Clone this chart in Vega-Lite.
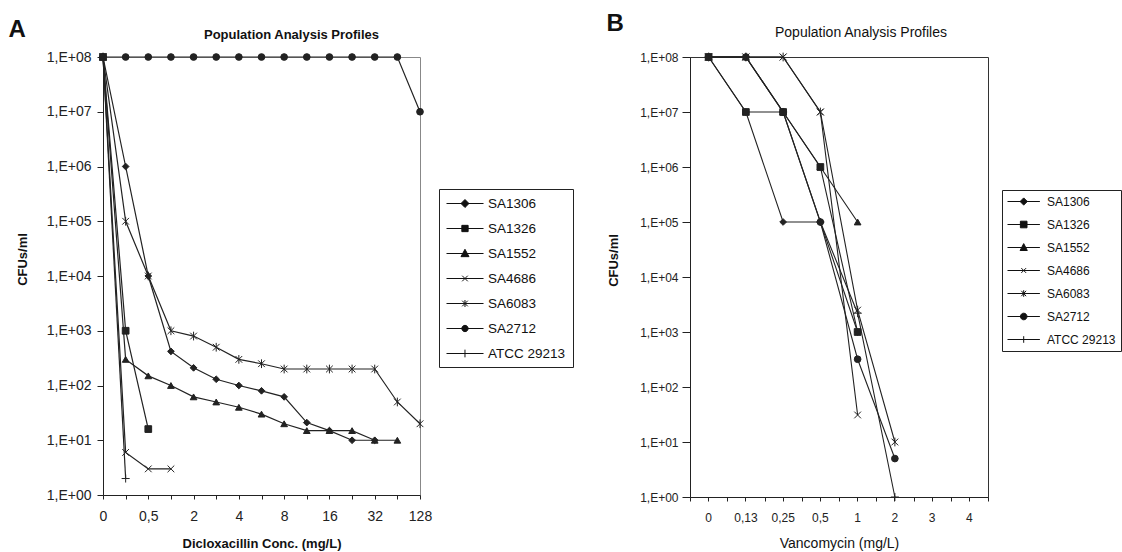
{
  "$schema": "https://vega.github.io/schema/vega-lite/v6.json",
  "background": "white",
  "padding": {"left": 8, "top": 12, "right": 0, "bottom": 0},
  "config": {
    "font": "Liberation Sans",
    "concat": {"spacing": 32},
    "axis": {"grid": false, "domainColor": "#222", "tickColor": "#222", "labelColor": "#222", "titleColor": "#111", "labelOverlap": false, "labelFlush": false}
  },
  "datasets": {
    "a": [
      {"series": "SA1306", "conc": 0, "cfu": 100000000},
      {"series": "SA1306", "conc": 0.25, "cfu": 1000000},
      {"series": "SA1306", "conc": 0.5, "cfu": 10000},
      {"series": "SA1306", "conc": 1, "cfu": 420},
      {"series": "SA1306", "conc": 2, "cfu": 210},
      {"series": "SA1306", "conc": 3, "cfu": 130},
      {"series": "SA1306", "conc": 4, "cfu": 100},
      {"series": "SA1306", "conc": 6, "cfu": 80},
      {"series": "SA1306", "conc": 8, "cfu": 62},
      {"series": "SA1306", "conc": 12, "cfu": 21},
      {"series": "SA1306", "conc": 16, "cfu": 15},
      {"series": "SA1306", "conc": 24, "cfu": 10},
      {"series": "SA1306", "conc": 32, "cfu": 10},
      {"series": "SA1326", "conc": 0, "cfu": 100000000},
      {"series": "SA1326", "conc": 0.25, "cfu": 1000},
      {"series": "SA1326", "conc": 0.5, "cfu": 16},
      {"series": "SA1552", "conc": 0, "cfu": 100000000},
      {"series": "SA1552", "conc": 0.25, "cfu": 300},
      {"series": "SA1552", "conc": 0.5, "cfu": 150},
      {"series": "SA1552", "conc": 1, "cfu": 100},
      {"series": "SA1552", "conc": 2, "cfu": 62},
      {"series": "SA1552", "conc": 3, "cfu": 50},
      {"series": "SA1552", "conc": 4, "cfu": 40},
      {"series": "SA1552", "conc": 6, "cfu": 30},
      {"series": "SA1552", "conc": 8, "cfu": 20},
      {"series": "SA1552", "conc": 12, "cfu": 15},
      {"series": "SA1552", "conc": 16, "cfu": 15},
      {"series": "SA1552", "conc": 24, "cfu": 15},
      {"series": "SA1552", "conc": 32, "cfu": 10},
      {"series": "SA1552", "conc": 64, "cfu": 10},
      {"series": "SA4686", "conc": 0, "cfu": 100000000},
      {"series": "SA4686", "conc": 0.25, "cfu": 6},
      {"series": "SA4686", "conc": 0.5, "cfu": 3},
      {"series": "SA4686", "conc": 1, "cfu": 3},
      {"series": "SA6083", "conc": 0, "cfu": 100000000},
      {"series": "SA6083", "conc": 0.25, "cfu": 100000},
      {"series": "SA6083", "conc": 0.5, "cfu": 10000},
      {"series": "SA6083", "conc": 1, "cfu": 1000},
      {"series": "SA6083", "conc": 2, "cfu": 800},
      {"series": "SA6083", "conc": 3, "cfu": 500},
      {"series": "SA6083", "conc": 4, "cfu": 300},
      {"series": "SA6083", "conc": 6, "cfu": 250},
      {"series": "SA6083", "conc": 8, "cfu": 200},
      {"series": "SA6083", "conc": 12, "cfu": 200},
      {"series": "SA6083", "conc": 16, "cfu": 200},
      {"series": "SA6083", "conc": 24, "cfu": 200},
      {"series": "SA6083", "conc": 32, "cfu": 200},
      {"series": "SA6083", "conc": 64, "cfu": 50},
      {"series": "SA6083", "conc": 128, "cfu": 20},
      {"series": "SA2712", "conc": 0, "cfu": 100000000},
      {"series": "SA2712", "conc": 0.25, "cfu": 100000000},
      {"series": "SA2712", "conc": 0.5, "cfu": 100000000},
      {"series": "SA2712", "conc": 1, "cfu": 100000000},
      {"series": "SA2712", "conc": 2, "cfu": 100000000},
      {"series": "SA2712", "conc": 3, "cfu": 100000000},
      {"series": "SA2712", "conc": 4, "cfu": 100000000},
      {"series": "SA2712", "conc": 6, "cfu": 100000000},
      {"series": "SA2712", "conc": 8, "cfu": 100000000},
      {"series": "SA2712", "conc": 12, "cfu": 100000000},
      {"series": "SA2712", "conc": 16, "cfu": 100000000},
      {"series": "SA2712", "conc": 24, "cfu": 100000000},
      {"series": "SA2712", "conc": 32, "cfu": 100000000},
      {"series": "SA2712", "conc": 64, "cfu": 100000000},
      {"series": "SA2712", "conc": 128, "cfu": 10000000},
      {"series": "ATCC 29213", "conc": 0, "cfu": 100000000},
      {"series": "ATCC 29213", "conc": 0.25, "cfu": 2}
    ],
    "b": [
      {"series": "SA1306", "conc": 0, "cfu": 100000000},
      {"series": "SA1306", "conc": 0.13, "cfu": 10000000},
      {"series": "SA1306", "conc": 0.25, "cfu": 100000},
      {"series": "SA1306", "conc": 0.5, "cfu": 100000},
      {"series": "SA1306", "conc": 1, "cfu": 1000},
      {"series": "SA1326", "conc": 0, "cfu": 100000000},
      {"series": "SA1326", "conc": 0.13, "cfu": 10000000},
      {"series": "SA1326", "conc": 0.25, "cfu": 10000000},
      {"series": "SA1326", "conc": 0.5, "cfu": 1000000},
      {"series": "SA1326", "conc": 1, "cfu": 1000},
      {"series": "SA1552", "conc": 0, "cfu": 100000000},
      {"series": "SA1552", "conc": 0.13, "cfu": 100000000},
      {"series": "SA1552", "conc": 0.25, "cfu": 10000000},
      {"series": "SA1552", "conc": 0.5, "cfu": 1000000},
      {"series": "SA1552", "conc": 1, "cfu": 100000},
      {"series": "SA4686", "conc": 0, "cfu": 100000000},
      {"series": "SA4686", "conc": 0.13, "cfu": 100000000},
      {"series": "SA4686", "conc": 0.25, "cfu": 100000000},
      {"series": "SA4686", "conc": 0.5, "cfu": 10000000},
      {"series": "SA4686", "conc": 1, "cfu": 31},
      {"series": "SA6083", "conc": 0, "cfu": 100000000},
      {"series": "SA6083", "conc": 0.13, "cfu": 100000000},
      {"series": "SA6083", "conc": 0.25, "cfu": 100000000},
      {"series": "SA6083", "conc": 0.5, "cfu": 10000000},
      {"series": "SA6083", "conc": 1, "cfu": 2500},
      {"series": "SA6083", "conc": 2, "cfu": 10},
      {"series": "SA2712", "conc": 0, "cfu": 100000000},
      {"series": "SA2712", "conc": 0.13, "cfu": 100000000},
      {"series": "SA2712", "conc": 0.25, "cfu": 10000000},
      {"series": "SA2712", "conc": 0.5, "cfu": 100000},
      {"series": "SA2712", "conc": 1, "cfu": 320},
      {"series": "SA2712", "conc": 2, "cfu": 5},
      {"series": "ATCC 29213", "conc": 0, "cfu": 100000000},
      {"series": "ATCC 29213", "conc": 0.13, "cfu": 100000000},
      {"series": "ATCC 29213", "conc": 0.25, "cfu": 10000000},
      {"series": "ATCC 29213", "conc": 0.5, "cfu": 100000},
      {"series": "ATCC 29213", "conc": 1, "cfu": 2200},
      {"series": "ATCC 29213", "conc": 2, "cfu": 1}
    ]
  },
  "hconcat": [
    {
      "title": {"text": "A", "fontSize": 24, "fontWeight": "bold", "anchor": "start", "frame": "bounds", "dx": -7, "offset": -13, "color": "#111"},
      "vconcat": [
        {
          "width": 317,
          "height": 438,
          "view": {"stroke": "#888", "strokeWidth": 1},
          "title": {"text": "Population Analysis Profiles", "fontSize": 13, "fontWeight": "bold", "frame": "group", "anchor": "middle", "dx": 30, "offset": 8, "color": "#111"},
          "data": {"name": "a"},
          "layer": [
            {
              "mark": {"type": "line", "color": "#222", "strokeWidth": 1.2},
              "encoding": {
                "x": {"field": "conc", "type": "ordinal", "scale": {"type": "point", "padding": 0, "domain": [0, 0.25, 0.5, 1, 2, 3, 4, 6, 8, 12, 16, 24, 32, 64, 128]},
                  "axis": {"title": "Dicloxacillin Conc. (mg/L)", "titleFontSize": 13, "titleFontWeight": "bold", "titlePadding": 14, "labelAngle": 0, "labelFontSize": 14, "labelPadding": 10, "tickSize": 4,
                    "labelExpr": "indexof([0, 0.5, 2, 4, 8, 16, 32, 128], datum.value) >= 0 ? replace(datum.label, '.', ',') : ''"}},
                "y": {"field": "cfu", "type": "quantitative", "scale": {"type": "log", "domain": [1, 100000000], "nice": false},
                  "axis": {"title": "CFUs/ml", "titleFontSize": 13, "titleFontWeight": "bold", "titleX": -74, "titleY": 202, "values": [1, 10, 100, 1000, 10000, 100000, 1000000, 10000000, 100000000],
                    "labelExpr": "'1,E+0' + round(log(datum.value) / LN10)", "labelFontSize": 14, "tickSize": 6, "labelPadding": 6}},
                "detail": {"field": "series", "type": "nominal"}
              }
            },
            {
              "mark": {"type": "point", "filled": true, "color": "#222", "stroke": "#222", "strokeWidth": 1, "size": 45, "opacity": 1},
              "encoding": {
                "x": {"field": "conc", "type": "ordinal"},
                "y": {"field": "cfu", "type": "quantitative"},
                "shape": {"field": "series", "type": "nominal", "legend": null,
                  "scale": {"domain": ["SA1306", "SA1326", "SA1552", "SA4686", "SA6083", "SA2712", "ATCC 29213"],
                    "range": ["diamond", "square", "triangle-up", "M-1,-1L1,1M-1,1L1,-1", "M-1,-1L1,1M-1,1L1,-1M0,-1.3V1.3", "circle", "M-1.2,0H1.2M0,-1.2V1.2"]}}
              }
            },
            {
              "data": {"values": []},
              "mark": {"type": "point", "filled": true, "color": "#111", "stroke": "#111", "strokeWidth": 1, "opacity": 1},
              "encoding": {
                "shape": {"field": "series", "type": "nominal",
                  "scale": {"domain": ["SA1306", "SA1326", "SA1552", "SA4686", "SA6083", "SA2712", "ATCC 29213"],
                    "range": [
                      "M-1,0H4.29M1.07,0L1.64,-0.57L2.21,0L1.64,0.57Z",
                      "M-1,0H4.29M1.19,-0.45H2.09V0.45H1.19Z",
                      "M-1,0H4.29M1.07,0.45L1.64,-0.6L2.21,0.45Z",
                      "M-1,0H4.29M1.24,-0.4L2.04,0.4M1.24,0.4L2.04,-0.4",
                      "M-1,0H4.29M1.24,-0.4L2.04,0.4M1.24,0.4L2.04,-0.4M1.64,-0.5V0.5",
                      "M-1,0H4.29M2.09,0A0.45,0.45,0,1,1,1.19,0A0.45,0.45,0,1,1,2.09,0Z",
                      "M-1,0H4.29M1.64,-0.55V0.55"
                    ]},
                  "legend": {"orient": "none", "legendX": 336, "legendY": 132, "title": null, "strokeColor": "#222", "padding": 7, "symbolSize": 196, "labelFontSize": 13.5, "labelOffset": 27, "rowPadding": 11, "symbolStrokeWidth": 1, "labelColor": "#111"}}
              }
            }
          ],
          "resolve": {"scale": {"shape": "independent"}}
        }
      ]
    },
    {
      "title": {"text": "B", "fontSize": 24, "fontWeight": "bold", "anchor": "start", "frame": "bounds", "dx": 0, "offset": -11, "color": "#111"},
      "vconcat": [
        {
          "width": 298,
          "height": 440,
          "view": {"stroke": "#333", "strokeWidth": 1},
          "title": {"text": "Population Analysis Profiles", "fontSize": 14, "fontWeight": "normal", "frame": "group", "anchor": "middle", "dx": 22, "offset": 11, "color": "#111"},
          "data": {"name": "b"},
          "layer": [
            {
              "mark": {"type": "line", "color": "#222", "strokeWidth": 1.1},
              "encoding": {
                "x": {"field": "conc", "type": "ordinal", "scale": {"type": "band", "paddingInner": 0, "paddingOuter": 0, "domain": [0, 0.13, 0.25, 0.5, 1, 2, 3, 4]},
                  "axis": {"orient": "bottom", "title": "Vancomycin (mg/L)", "titleFontSize": 14, "titleFontWeight": "normal", "titlePadding": 13, "labelAngle": 0, "labelFontSize": 12, "labelPadding": 11, "tickSize": 4,
                    "labelExpr": "replace(datum.label, '.', ',')"}},
                "y": {"field": "cfu", "type": "quantitative", "scale": {"type": "log", "domain": [1, 100000000], "nice": false},
                  "axis": {"title": "CFUs/ml", "titleFontSize": 13, "titleFontWeight": "bold", "titleX": -70, "titleY": 203, "values": [1, 10, 100, 1000, 10000, 100000, 1000000, 10000000, 100000000],
                    "labelExpr": "'1,E+0' + round(log(datum.value) / LN10)", "labelFontSize": 12, "tickSize": 8, "labelPadding": 4}},
                "detail": {"field": "series", "type": "nominal"}
              }
            },
            {
              "mark": {"type": "point", "filled": true, "color": "#222", "stroke": "#222", "strokeWidth": 1, "size": 45, "opacity": 1},
              "encoding": {
                "x": {"field": "conc", "type": "ordinal", "axis": null},
                "y": {"field": "cfu", "type": "quantitative"},
                "shape": {"field": "series", "type": "nominal", "legend": null,
                  "scale": {"domain": ["SA1306", "SA1326", "SA1552", "SA4686", "SA6083", "SA2712", "ATCC 29213"],
                    "range": ["diamond", "square", "triangle-up", "M-1,-1L1,1M-1,1L1,-1", "M-1,-1L1,1M-1,1L1,-1M0,-1.3V1.3", "circle", "M-1.2,0H1.2M0,-1.2V1.2"]}}
              }
            },
            {
              "data": {"values": []},
              "mark": {"type": "point", "filled": true, "color": "#111", "stroke": "#111", "strokeWidth": 1, "opacity": 1},
              "encoding": {
                "x": {"field": "conc", "type": "ordinal",
                  "axis": {"orient": "bottom", "tickBand": "extent", "labels": false, "domain": false, "title": null, "tickSize": 4}},
                "shape": {"field": "series", "type": "nominal",
                  "scale": {"domain": ["SA1306", "SA1326", "SA1552", "SA4686", "SA6083", "SA2712", "ATCC 29213"],
                    "range": [
                      "M-1,0H4.4M1.1,0L1.7,-0.6L2.3,0L1.7,0.6Z",
                      "M-1,0H4.4M1.15,-0.55H2.25V0.55H1.15Z",
                      "M-1,0H4.4M1.1,0.5L1.7,-0.65L2.3,0.5Z",
                      "M-1,0H4.4M1.3,-0.4L2.1,0.4M1.3,0.4L2.1,-0.4",
                      "M-1,0H4.4M1.3,-0.45L2.1,0.45M1.3,0.45L2.1,-0.45M1.7,-0.55V0.55",
                      "M-1,0H4.4M2.25,0A0.55,0.55,0,1,1,1.15,0A0.55,0.55,0,1,1,2.25,0Z",
                      "M-1,0H4.4M1.7,-0.55V0.55"
                    ]},
                  "legend": {"orient": "none", "legendX": 312, "legendY": 133, "title": null, "strokeColor": "#222", "padding": 5, "symbolSize": 144, "labelFontSize": 12, "labelOffset": 27, "rowPadding": 10, "symbolStrokeWidth": 1, "labelColor": "#111"}}
              }
            }
          ],
          "resolve": {"scale": {"shape": "independent"}, "axis": {"x": "independent"}}
        }
      ]
    }
  ]
}
